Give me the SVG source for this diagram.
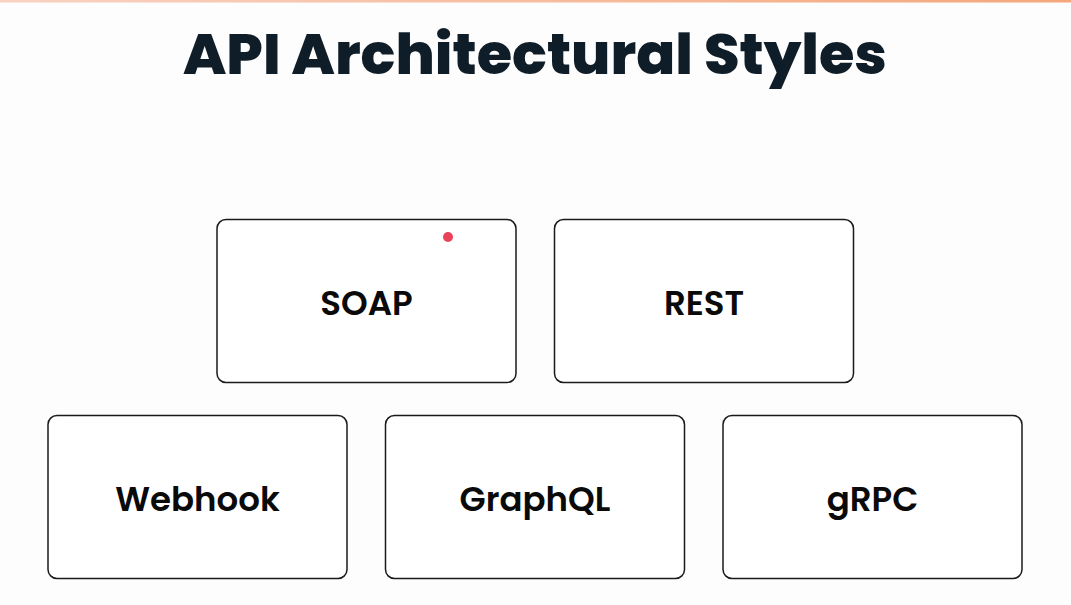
<svg xmlns="http://www.w3.org/2000/svg" width="1071" height="605" viewBox="0 0 1071 605">
<defs>
<linearGradient id="bar" x1="0" y1="0" x2="1" y2="0">
<stop offset="0" stop-color="#f9d2c2"/>
<stop offset="1" stop-color="#f4a77b"/>
</linearGradient>
<style>
.box{fill:#fff;stroke:#1a1a1a;stroke-width:1.5}
.lbl{font-family:Poppins,"Inter","Liberation Sans",sans-serif;font-weight:600;font-size:34px;fill:#0a0a0a;text-anchor:middle}
.title{font-family:Poppins,"Inter","Liberation Sans",sans-serif;font-weight:800;font-size:56px;fill:#0f1d29;text-anchor:middle}
</style>
</defs>
<rect width="1071" height="605" fill="#fdfdfd"/>
<rect x="0" y="0" width="1071" height="2.5" fill="url(#bar)"/>
<text class="title" x="535" y="74" textLength="704" lengthAdjust="spacingAndGlyphs">API Architectural Styles</text>
<g id="connectors"/>
<g id="soap">
<rect class="box" x="217" y="219.5" width="299" height="163" rx="9"/>
<text class="lbl" x="366.5" y="315">SOAP</text>
<circle cx="448" cy="237" r="5" fill="#e8435a"/>
</g>
<g id="rest">
<rect class="box" x="554.5" y="219.5" width="299" height="163" rx="9"/>
<text class="lbl" x="704" y="315">REST</text>
</g>
<g id="webhook">
<rect class="box" x="48" y="415.5" width="299" height="163" rx="9"/>
<text class="lbl" x="197.5" y="511">Webhook</text>
</g>
<g id="graphql">
<rect class="box" x="385.5" y="415.5" width="299" height="163" rx="9"/>
<text class="lbl" x="535" y="511">GraphQL</text>
</g>
<g id="grpc">
<rect class="box" x="723" y="415.5" width="299" height="163" rx="9"/>
<text class="lbl" x="872.5" y="511">gRPC</text>
</g>
</svg>
